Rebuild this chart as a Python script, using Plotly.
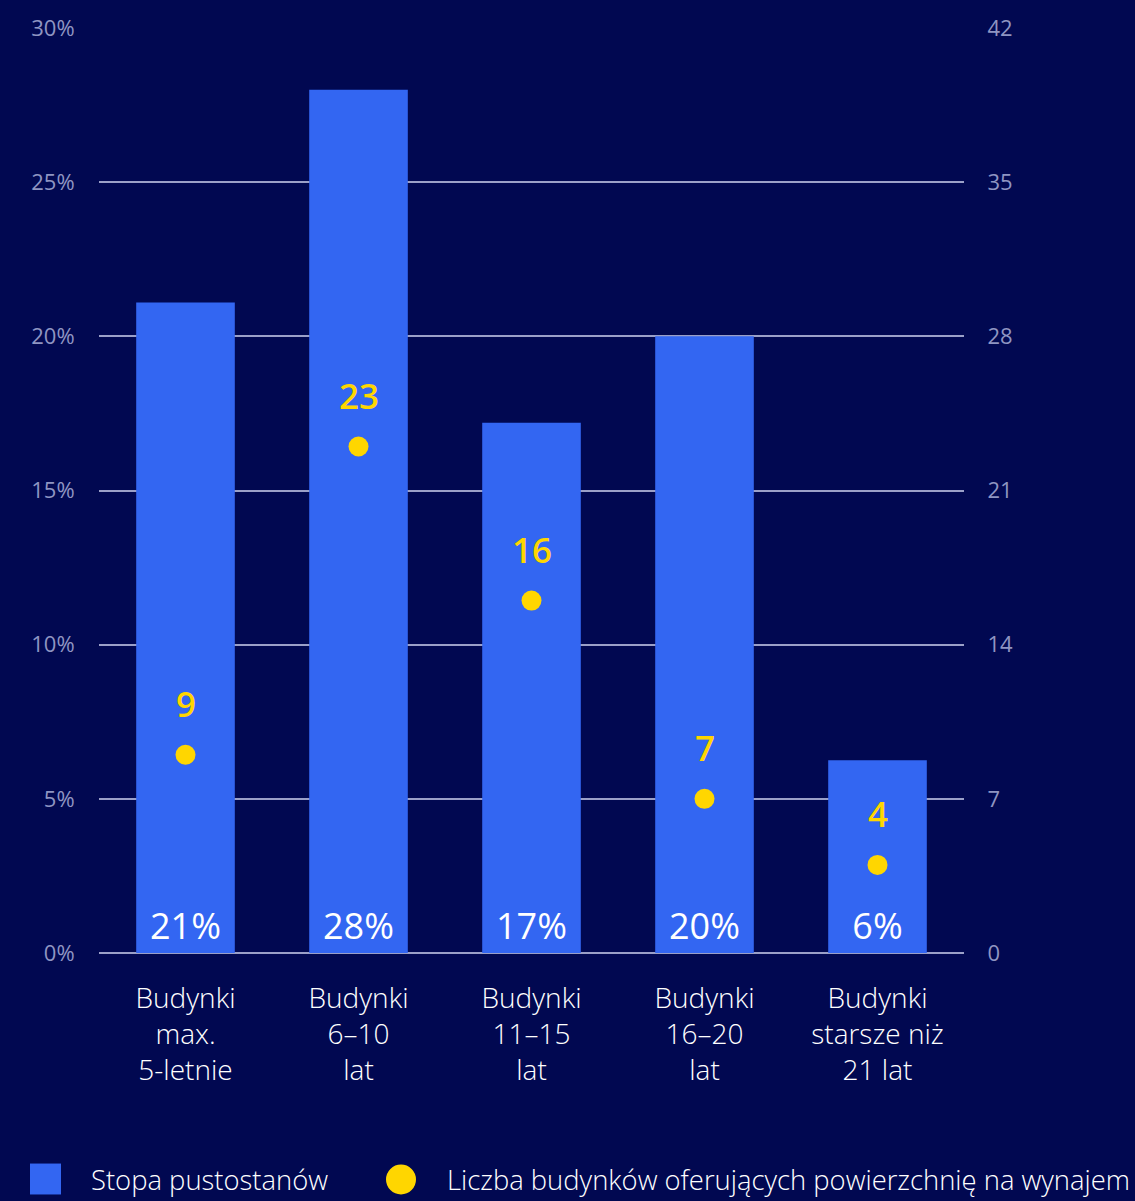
import plotly.graph_objects as go

categories = ["Budynki<br>max.<br>5-letnie", "Budynki<br>6–10<br>lat", "Budynki<br>11–15<br>lat",
              "Budynki<br>16–20<br>lat", "Budynki<br>starsze niż<br>21 lat"]
vacancy_rate = [21.1, 28.0, 17.2, 20.0, 6.25]
buildings_count = [9, 23, 16, 7, 4]
left_ticks = [0, 5, 10, 15, 20, 25, 30]
left_tick_labels = ["0%", "5%", "10%", "15%", "20%", "25%", "30%"]
right_ticks = [0, 7, 14, 21, 28, 35, 42]
legend_labels = ["Stopa pustostanów", "Liczba budynków oferujących powierzchnię na wynajem"]

BG = "#010851"
BAR = "#3366F2"
YEL = "#FFD600"
TICK = "#8F95C2"
GRID = "#9BA0C8"
LIGHT = "Open Sans"

fig = go.Figure()
fig.add_trace(go.Bar(
    x=categories, y=vacancy_rate, marker=dict(color=BAR, line=dict(width=0)),
    texttemplate="%{y:.0f}%", textposition="inside", insidetextanchor="start",
    textangle=0, textfont=dict(color="white", size=36, family="Open Sans"),
    yaxis="y", showlegend=False,
))
fig.add_trace(go.Scatter(
    x=categories, y=buildings_count, mode="markers",
    marker=dict(color=YEL, size=20), yaxis="y2", showlegend=False,
))
for c, v in zip(categories, buildings_count):
    fig.add_annotation(x=c, y=v, xref="x", yref="y2", yshift=51, text=str(v),
                       showarrow=False, font=dict(color=YEL, size=35, family="Open Sans", weight=600))

fig.update_layout(
    width=1135, height=1201,
    paper_bgcolor=BG, plot_bgcolor=BG,
    margin=dict(l=99, r=171, t=26, b=248),
    bargap=0.43,
    xaxis=dict(showgrid=False, showline=False, zeroline=False,
               ticks="outside", ticklen=20, tickcolor=BG,
               tickfont=dict(color="white", size=28, family=LIGHT, weight=300)),
    yaxis=dict(range=[0, 30], tickvals=left_ticks, ticktext=left_tick_labels,
               showgrid=True, gridcolor=GRID, gridwidth=1.5, zeroline=True,
               zerolinecolor=GRID, zerolinewidth=1.5, showline=False,
               ticks="outside", ticklen=19, tickcolor=BG,
               tickfont=dict(color=TICK, size=22, family="Open Sans")),
    yaxis2=dict(range=[0, 42], tickvals=right_ticks, overlaying="y", side="right",
                showgrid=False, zeroline=False, showline=False,
                ticks="outside", ticklen=18, tickcolor=BG,
                tickfont=dict(color=TICK, size=22, family="Open Sans")),
)

# custom legend
def px_x(p):
    return (p - 99) / 865

def px_y(p):
    return (953 - p) / 927

fig.add_shape(type="rect", xref="paper", yref="paper",
              x0=px_x(30), x1=px_x(61), y0=px_y(1195), y1=px_y(1164),
              fillcolor=BAR, line=dict(width=0))
fig.add_shape(type="circle", xref="paper", yref="paper",
              x0=px_x(386), x1=px_x(416), y0=px_y(1195), y1=px_y(1165),
              fillcolor=YEL, line=dict(width=0))
fig.add_annotation(x=px_x(89), y=px_y(1180), xref="paper", yref="paper", text=legend_labels[0],
                   xanchor="left", yanchor="middle", showarrow=False,
                   font=dict(color="white", size=27.4, family=LIGHT, weight=300))
fig.add_annotation(x=px_x(445), y=px_y(1180), xref="paper", yref="paper", text=legend_labels[1],
                   xanchor="left", yanchor="middle", showarrow=False,
                   font=dict(color="white", size=27.4, family=LIGHT, weight=300))

fig.write_html("out.html")
